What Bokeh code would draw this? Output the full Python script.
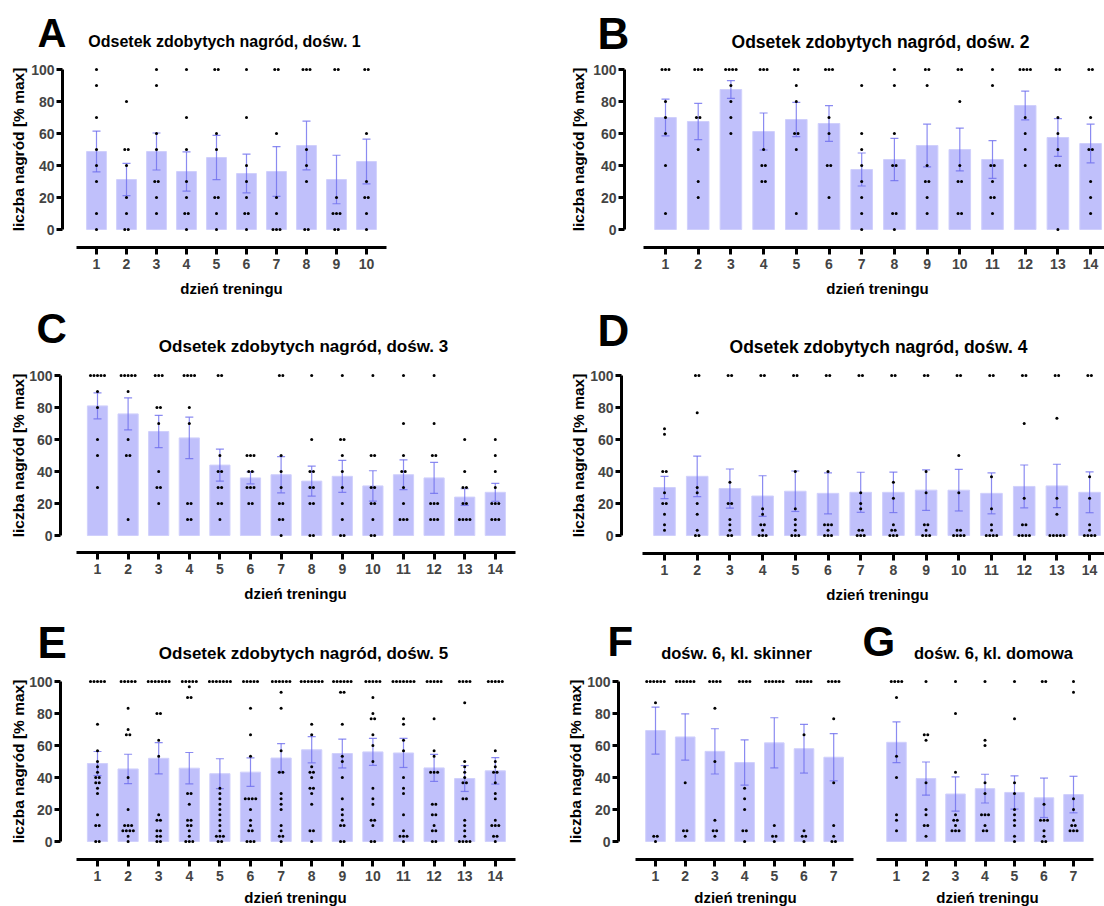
import numpy as np
from bokeh.plotting import figure
from bokeh.models import Range1d, FixedTicker
from bokeh.core.properties import value
from bokeh.layouts import row, column
from bokeh.embed import file_html
from bokeh.resources import INLINE

FONT = "Liberation Sans"
BAR_FILL = "#c0c0fb"
ERR_COLOR = "#6e6eee"
Y_TICKS = [0, 20, 40, 60, 80, 100]
X_TITLE = "dzień treningu"
Y_TITLE = "liczba nagród [% max]"

# ---- per-animal reward percentages, one list per training day ----
exp1_points = [
    [100, 90, 70, 50, 40, 30, 10, 0],
    [80, 50, 50, 40, 20, 10, 0, 0],
    [100, 90, 60, 50, 30, 30, 20, 10],
    [100, 70, 50, 30, 20, 10, 10, 0],
    [100, 100, 60, 50, 20, 20, 10, 0],
    [100, 70, 40, 30, 20, 10, 10, 0],
    [100, 100, 60, 20, 10, 0, 0, 0],
    [100, 100, 100, 50, 40, 30, 0, 0],
    [100, 100, 20, 10, 10, 10, 0, 0],
    [100, 100, 60, 30, 20, 20, 10, 0],
]

exp2_points = [
    [100, 100, 100, 80, 70, 60, 40, 10],
    [100, 100, 100, 70, 70, 50, 30, 20],
    [100, 100, 100, 100, 90, 80, 70, 60],
    [100, 100, 100, 50, 40, 40, 30, 30],
    [100, 100, 90, 80, 60, 60, 50, 10],
    [100, 100, 100, 70, 60, 40, 40, 20],
    [90, 60, 50, 40, 30, 20, 10, 0],
    [100, 90, 60, 40, 40, 10, 10, 0],
    [100, 100, 90, 40, 30, 30, 20, 10],
    [100, 100, 80, 40, 30, 30, 10, 10],
    [100, 90, 40, 40, 30, 20, 20, 10],
    [100, 100, 100, 100, 70, 60, 50, 40],
    [100, 100, 70, 60, 50, 40, 40, 0],
    [100, 100, 70, 50, 50, 30, 20, 10],
]

exp3_points = [
    [100, 100, 100, 100, 100, 90, 80, 60, 50, 30],
    [100, 100, 100, 100, 100, 90, 60, 50, 50, 10],
    [100, 100, 100, 80, 80, 70, 40, 30, 30, 20],
    [100, 100, 100, 100, 80, 70, 20, 20, 10, 10],
    [100, 100, 50, 40, 40, 30, 30, 20, 20, 10],
    [50, 50, 50, 40, 40, 30, 30, 30, 20, 20],
    [100, 100, 50, 40, 30, 20, 20, 10, 10, 0],
    [100, 60, 40, 40, 30, 30, 20, 20, 0, 0],
    [100, 60, 60, 50, 40, 30, 20, 10, 0, 0],
    [100, 50, 50, 30, 30, 20, 20, 10, 0, 0],
    [100, 70, 50, 40, 40, 30, 20, 10, 10, 10],
    [100, 70, 50, 50, 20, 20, 20, 10, 10, 10],
    [60, 40, 30, 30, 20, 20, 10, 10, 10, 10],
    [60, 50, 40, 30, 20, 20, 20, 10, 10, 10],
]

exp4_points = [
    [66.7, 63.3, 40, 40, 26.7, 20, 20, 13.3, 6.7, 3.3],
    [100, 100, 76.7, 30, 26.7, 20, 13.3, 3.3, 0, 0],
    [100, 100, 33.3, 20, 20, 10, 6.7, 3.3, 0, 0],
    [100, 100, 16.7, 13.3, 6.7, 6.7, 3.3, 0, 0, 0],
    [100, 100, 40, 16.7, 10, 6.7, 3.3, 0, 0, 0],
    [100, 100, 40, 6.7, 6.7, 6.7, 3.3, 0, 0, 0],
    [100, 100, 26.7, 20, 16.7, 3.3, 3.3, 0, 0, 0],
    [100, 100, 33.3, 23.3, 6.7, 3.3, 3.3, 0, 0, 0],
    [100, 100, 40, 26.7, 6.7, 6.7, 3.3, 0, 0, 0],
    [100, 100, 50, 26.7, 3.3, 3.3, 0, 0, 0, 0],
    [100, 100, 36.7, 16.7, 6.7, 3.3, 0, 0, 0, 0],
    [100, 100, 70, 23.3, 6.7, 6.7, 0, 0, 0, 0],
    [100, 100, 73.3, 23.3, 13.3, 0, 0, 0, 0, 0],
    [100, 100, 36.7, 23.3, 6.7, 3.3, 0, 0, 0, 0],
]

exp5_points = [
    [100, 100, 100, 100, 100, 73.3, 56.7, 50, 46.7, 43.3, 40, 40, 36.7, 36.7, 33.3, 30, 16.7, 10, 10, 0, 0],
    [100, 100, 100, 100, 100, 83.3, 70, 66.7, 66.7, 40, 20, 10, 10, 10, 6.7, 6.7, 6.7, 6.7, 3.3, 0],
    [100, 100, 100, 100, 100, 100, 100, 80, 80, 63.3, 53.3, 16.7, 13.3, 13.3, 6.7, 6.7, 3.3, 3.3, 0, 0],
    [100, 100, 100, 100, 100, 96.7, 90, 90, 30, 30, 23.3, 13.3, 13.3, 10, 10, 6.7, 3.3, 0, 0, 0],
    [100, 100, 100, 100, 100, 100, 100, 33.3, 30, 26.7, 23.3, 20, 16.7, 13.3, 10, 6.7, 3.3, 3.3, 3.3, 0, 0],
    [100, 100, 100, 100, 100, 83.3, 66.7, 53.3, 26.7, 26.7, 26.7, 26.7, 20, 13.3, 10, 6.7, 6.7, 0, 0, 0],
    [100, 100, 100, 100, 100, 100, 93.3, 83.3, 56.7, 43.3, 43.3, 30, 26.7, 23.3, 20, 10, 6.7, 3.3, 3.3, 0],
    [100, 100, 100, 100, 100, 100, 100, 73.3, 66.7, 46.7, 43.3, 43.3, 40, 33.3, 33.3, 30, 23.3, 6.7, 6.7, 0],
    [100, 100, 100, 100, 100, 100, 93.3, 93.3, 73.3, 53.3, 50, 40, 26.7, 20, 16.7, 13.3, 10, 10, 0, 0],
    [100, 100, 100, 100, 100, 90, 80, 76.7, 76.7, 66.7, 60, 50, 33.3, 26.7, 23.3, 13.3, 13.3, 10, 0, 0],
    [100, 100, 100, 100, 100, 100, 100, 76.7, 73.3, 63.3, 56.7, 40, 33.3, 30, 16.7, 6.7, 3.3, 3.3, 3.3, 0],
    [100, 100, 100, 100, 100, 76.7, 56.7, 53.3, 43.3, 43.3, 43.3, 23.3, 23.3, 16.7, 16.7, 10, 6.7, 6.7, 0, 0],
    [100, 100, 100, 100, 86.7, 50, 46.7, 43.3, 40, 36.7, 36.7, 26.7, 26.7, 13.3, 10, 6.7, 3.3, 0, 0, 0, 0],
    [100, 100, 100, 100, 100, 56.7, 50, 46.7, 43.3, 43.3, 36.7, 30, 26.7, 13.3, 10, 10, 10, 3.3, 3.3, 0],
]

exp6_skinner_points = [
    [100, 100, 100, 100, 100, 100, 86.7, 3.3, 3.3, 0],
    [100, 100, 100, 100, 100, 100, 36.7, 6.7, 6.7, 3.3],
    [100, 100, 100, 100, 83.3, 50, 13.3, 6.7, 6.7, 3.3],
    [100, 100, 100, 100, 33.3, 26.7, 20, 6.7, 6.7, 0],
    [100, 100, 100, 100, 100, 100, 10, 3.3, 3.3, 0],
    [100, 100, 100, 100, 100, 66.7, 6.7, 3.3, 3.3, 0],
    [100, 100, 100, 100, 76.7, 36.7, 10, 3.3, 0, 0],
]

exp6_home_points = [
    [100, 100, 100, 100, 90, 53.3, 40, 16.7, 13.3, 6.7],
    [100, 66.7, 66.7, 63.3, 36.7, 20, 16.7, 10, 10, 3.3],
    [100, 80, 43.3, 16.7, 13.3, 13.3, 10, 6.7, 6.7, 6.7],
    [100, 63.3, 60, 36.7, 30, 16.7, 16.7, 16.7, 10, 6.7, 6.7],
    [100, 76.7, 36.7, 30, 20, 16.7, 13.3, 10, 3.3, 0],
    [100, 100, 23.3, 13.3, 13.3, 13.3, 6.7, 3.3, 0, 0],
    [100, 93.3, 26.7, 20, 13.3, 10, 10, 6.7, 6.7, 6.7],
]

panel_titles = [
    "Odsetek zdobytych nagród, dośw. 1",
    "Odsetek zdobytych nagród, dośw. 2",
    "Odsetek zdobytych nagród, dośw. 3",
    "Odsetek zdobytych nagród, dośw. 4",
    "Odsetek zdobytych nagród, dośw. 5",
    "dośw. 6, kl. skinner",
    "dośw. 6, kl. domowa",
]
panel_letters = ["A", "B", "C", "D", "E", "F", "G"]


def add_text(p, x, y, text, size, align="center", baseline="middle", angle=0.0):
    p.text(x=[x], y=[y], text=[text], angle=angle,
           text_font=value(FONT), text_font_style="bold",
           text_font_size=value(size), text_color="black",
           text_align=align, text_baseline=baseline)


def build_panel(points, g, letter, title, show_y=True):
    """One panel; the plotting frame fills the whole figure and the axes
    are pinned to fixed data positions inside it (page-pixel geometry in g)."""
    n = len(points)
    days = np.arange(1, n + 1)
    ppu_y = (g["y0"] - g["y100"]) / 100.0
    step = g["step"]

    def dx(px):
        return 1 + (px - g["bar1"]) / step

    def dy(py):
        return (g["y0"] - py) / ppu_y

    p = figure(
        width=g["w"], height=g["h"],
        x_range=Range1d(dx(g["px"]), dx(g["px"] + g["w"])),
        y_range=Range1d(dy(g["py"] + g["h"]), dy(g["py"])),
        output_backend="svg", toolbar_location=None, title=None,
        y_axis_location="left" if show_y else None,
        min_border=0,
    )
    p.outline_line_color = None
    p.background_fill_color = "white"
    p.border_fill_color = "white"
    p.xgrid.visible = False
    p.ygrid.visible = False

    means = np.array([np.mean(v) for v in points])
    sems = np.array([np.std(v, ddof=1) / np.sqrt(len(v)) for v in points])

    bar_w = 0.66
    p.vbar(x=days, top=means, bottom=0, width=bar_w,
           fill_color=BAR_FILL, line_color="#d0d0fc", line_width=1)

    cap = 8.0 / step
    p.segment(x0=days, y0=means - sems, x1=days, y1=means + sems,
              line_color=ERR_COLOR, line_width=1.2, line_alpha=0.8)
    for edge in (means - sems, means + sems):
        p.segment(x0=days - cap / 2, y0=edge, x1=days + cap / 2, y1=edge,
                  line_color=ERR_COLOR, line_width=1.2, line_alpha=0.8)

    # individual animals, spread sideways where values coincide
    dot_gap = 3.5 / step
    xs, ys = [], []
    for d, vals in zip(days, points):
        uniq, counts = np.unique(np.round(vals, 1), return_counts=True)
        for val, c in zip(uniq, counts):
            for i in range(c):
                xs.append(d + (i - (c - 1) / 2) * dot_gap)
                ys.append(val)
    p.scatter(x=xs, y=ys, size=3.0, color="black", line_color=None)

    # axes
    p.xaxis.fixed_location = dy(g["xaxis"])
    p.xaxis.ticker = FixedTicker(ticks=list(days))
    p.xaxis.bounds = (1 - 0.67, n + 0.67)
    p.xaxis.axis_line_width = 3
    p.xaxis.major_tick_line_width = 3
    p.xaxis.major_tick_out = 7
    p.xaxis.major_tick_in = 0
    p.xaxis.minor_tick_line_color = None
    p.xaxis.major_label_text_font = FONT
    p.xaxis.major_label_text_font_style = "bold"
    p.xaxis.major_label_text_font_size = "14px"
    p.xaxis.major_label_standoff = 4
    if show_y:
        p.yaxis.fixed_location = dx(g["fl"])
        p.yaxis.ticker = FixedTicker(ticks=Y_TICKS)
        p.yaxis.bounds = (0, 100)
        p.yaxis.axis_line_width = 3
        p.yaxis.major_tick_line_width = 3
        p.yaxis.major_tick_out = 6
        p.yaxis.major_tick_in = 0
        p.yaxis.minor_tick_line_color = None
        p.yaxis.major_label_text_font = FONT
        p.yaxis.major_label_text_font_style = "bold"
        p.yaxis.major_label_text_font_size = "14px"
        p.yaxis.major_label_standoff = 2
        add_text(p, dx(g["ylab_x"]), dy((g["y0"] + g["y100"]) / 2),
                 Y_TITLE, "15.5px", angle=np.pi / 2)

    add_text(p, dx(g["xlab_x"]), dy(g["xlab_y"]), X_TITLE, "15px")
    add_text(p, dx(g["title_x"]), dy(g["title_y"]), title, g["title_size"])
    add_text(p, dx(g["letter_x"]), dy(g["letter_y"]), letter, g["letter_size"],
             align="left", baseline="middle")
    return p


geoms = [
    dict(px=0, py=0, w=560, h=298, fl=62, y100=69, y0=229, xaxis=247,
         bar1=96, step=30, ylab_x=18, xlab_x=231, xlab_y=288,
         title_x=224, title_y=41, title_size="16px",
         letter_x=37, letter_y=32, letter_size="40px"),
    dict(px=560, py=0, w=544, h=298, fl=624, y100=69, y0=229, xaxis=247,
         bar1=665, step=32.7, ylab_x=578, xlab_x=877, xlab_y=288,
         title_x=880, title_y=41, title_size="17.5px",
         letter_x=597, letter_y=33, letter_size="44px"),
    dict(px=0, py=298, w=560, h=308, fl=60, y100=375, y0=535, xaxis=552,
         bar1=97, step=30.6, ylab_x=18, xlab_x=295, xlab_y=593,
         title_x=303, title_y=346, title_size="17px",
         letter_x=36, letter_y=328, letter_size="42px"),
    dict(px=560, py=298, w=544, h=308, fl=621, y100=375, y0=535, xaxis=553,
         bar1=664, step=32.7, ylab_x=578, xlab_x=877, xlab_y=594,
         title_x=878, title_y=346, title_size="17.5px",
         letter_x=597, letter_y=330, letter_size="44px"),
    dict(px=0, py=606, w=560, h=300, fl=60, y100=681, y0=841, xaxis=859,
         bar1=97, step=30.6, ylab_x=18, xlab_x=295, xlab_y=897,
         title_x=303, title_y=653, title_size="17px",
         letter_x=37, letter_y=642, letter_size="44px"),
    dict(px=560, py=606, w=300, h=300, fl=618, y100=681, y0=841, xaxis=859,
         bar1=655, step=29.7, ylab_x=575, xlab_x=745, xlab_y=897,
         title_x=736, title_y=652, title_size="16.5px",
         letter_x=607, letter_y=641, letter_size="42px"),
    dict(px=860, py=606, w=244, h=300, fl=866, y100=681, y0=841, xaxis=859,
         bar1=896, step=29.5, ylab_x=0, xlab_x=987, xlab_y=897,
         title_x=993, title_y=652, title_size="16.5px",
         letter_x=862, letter_y=641, letter_size="42px"),
]

all_points = [exp1_points, exp2_points, exp3_points, exp4_points, exp5_points,
              exp6_skinner_points, exp6_home_points]

panels = [build_panel(pts, g, let, ttl, show_y=(let != "G"))
          for pts, g, let, ttl in zip(all_points, geoms, panel_letters, panel_titles)]

layout = column(
    row(panels[0], panels[1]),
    row(panels[2], panels[3]),
    row(panels[4], panels[5], panels[6]),
)

open("out.html", "w").write(file_html(layout, INLINE))
